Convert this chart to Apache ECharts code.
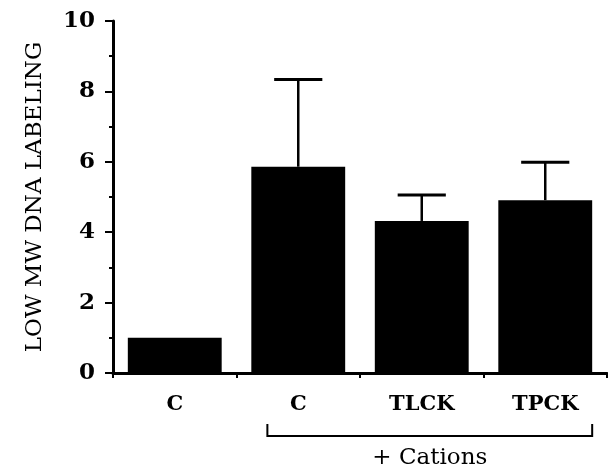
<!DOCTYPE html>
<html>
<head>
<meta charset="utf-8">
<script src="https://cdn.jsdelivr.net/npm/echarts@6/dist/echarts.min.js"></script>
<style>
  html, body { margin: 0; padding: 0; background: #fff; }
  #main { width: 608px; height: 470px; }
</style>
</head>
<body>
<div id="main"></div>
<script>
var categories = ['C', 'C', 'TLCK', 'TPCK'];
var means = [1.0, 5.86, 4.32, 4.91];
var errors = [0, 2.48, 0.74, 1.08];
var yTicks = [0, 2, 4, 6, 8, 10];
var groupLabel = '+ Cations';

var font = 'DejaVu Serif';
var dom = document.getElementById('main');
var chart = echarts.init(dom);

var errData = means.map(function (m, i) { return [i, m, errors[i]]; });

var option = {
    animation: false,
    grid: { left: 113, right: 1, top: 21, bottom: 97 },
    xAxis: {
        type: 'category',
        data: categories,
        axisLine: { lineStyle: { color: '#000', width: 3 } },
        axisTick: { show: true, length: 5, lineStyle: { color: '#000', width: 2 } },
        axisLabel: {
            color: '#000', fontFamily: font, fontWeight: 'bold', fontSize: 21,
            margin: 21, interval: 0
        }
    },
    yAxis: {
        type: 'value',
        min: yTicks[0],
        max: yTicks[yTicks.length - 1],
        interval: 2,
        name: 'LOW MW DNA LABELING',
        nameLocation: 'middle',
        nameGap: 66,
        nameTextStyle: { color: '#000', fontFamily: font, fontSize: 23 },
        axisLine: { show: true, lineStyle: { color: '#000', width: 3 } },
        axisTick: { show: true, length: 8, lineStyle: { color: '#000', width: 2 } },
        minorTick: { show: true, splitNumber: 2, length: 4, lineStyle: { color: '#000', width: 2 } },
        splitLine: { show: false },
        axisLabel: {
            color: '#000', fontFamily: font, fontWeight: 'bold', fontSize: 23, margin: 18
        }
    },
    series: [
        {
            type: 'bar',
            data: means,
            barWidth: '76%',
            itemStyle: { color: '#000' },
            z: 2
        },
        {
            type: 'custom',
            data: errData,
            z: 3,
            renderItem: function (params, api) {
                var i = api.value(0);
                var m = api.value(1);
                var e = api.value(2);
                if (!e) return null;
                var base = api.coord([i, m]);
                var top = api.coord([i, m + e]);
                var half = api.size([1, 0])[0] * 0.195;
                return {
                    type: 'group',
                    children: [
                        { type: 'line', shape: { x1: top[0], y1: base[1], x2: top[0], y2: top[1] },
                          style: { stroke: '#000', lineWidth: 2.5 } },
                        { type: 'line', shape: { x1: top[0] - half, y1: top[1], x2: top[0] + half, y2: top[1] },
                          style: { stroke: '#000', lineWidth: 3 } }
                    ]
                };
            }
        }
    ]
};

chart.setOption(option);

// bracket under the treated groups
var c1 = chart.convertToPixel({ xAxisIndex: 0 }, 1);
var c3 = chart.convertToPixel({ xAxisIndex: 0 }, 3);
var band = chart.convertToPixel({ xAxisIndex: 0 }, 2) - c1;
var y0 = chart.convertToPixel({ yAxisIndex: 0 }, 0);
var bx1 = c1 - band * 0.25;
var bx2 = c3 + band * 0.38;
var by = y0 + 63;

chart.setOption({
    graphic: [
        {
            type: 'polyline',
            shape: { points: [[bx1, by - 12], [bx1, by], [bx2, by], [bx2, by - 12]] },
            style: { stroke: '#000', lineWidth: 2, fill: null }
        },
        {
            type: 'text',
            x: (bx1 + bx2) / 2,
            y: by + 22,
            style: {
                text: groupLabel, fill: '#000', font: '23px "' + font + '"',
                textAlign: 'center', textVerticalAlign: 'middle'
            }
        }
    ]
});
</script>
</body>
</html>
